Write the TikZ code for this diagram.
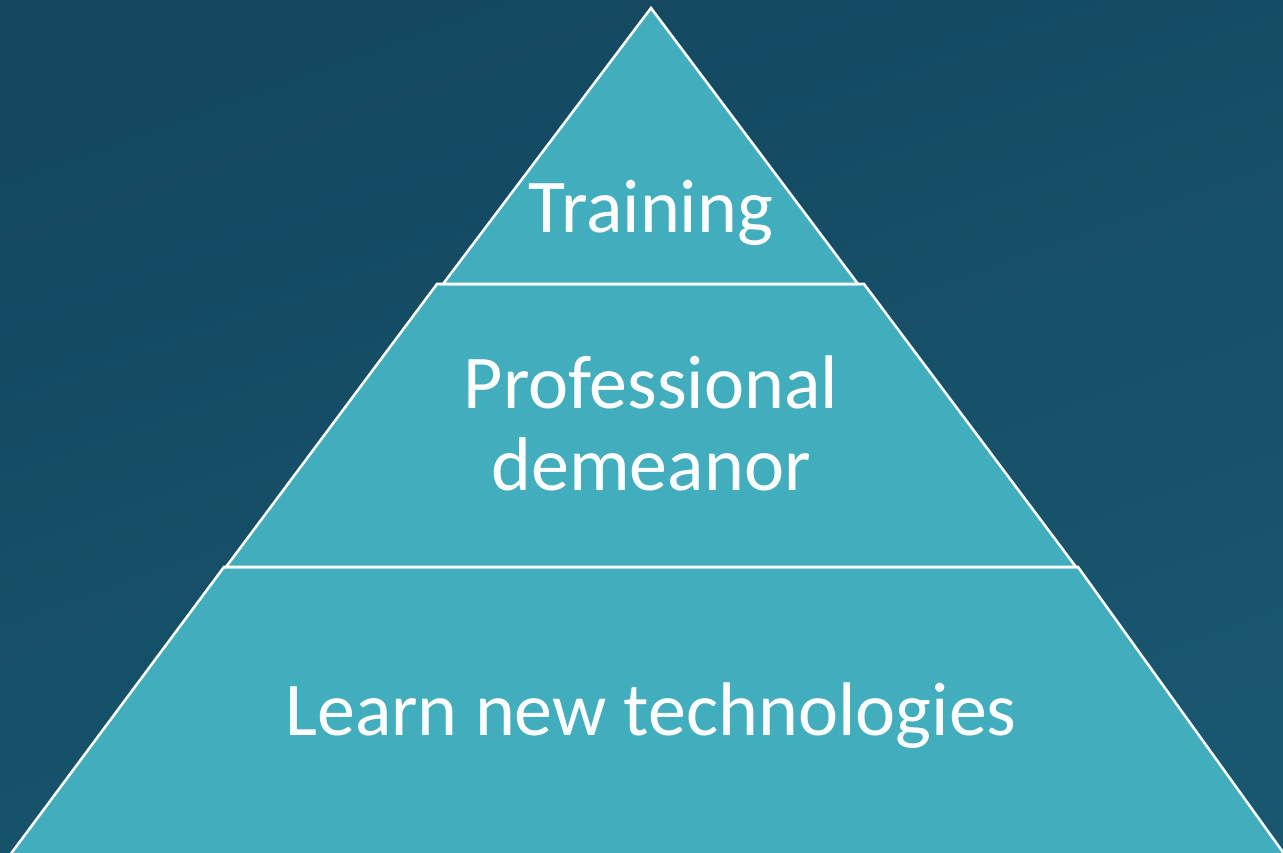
\documentclass[tikz,border=0pt]{standalone}
\usepackage{fontspec}
\setmainfont{Carlito}
\definecolor{bgtop}{HTML}{134860}
\definecolor{bgbot}{HTML}{19566F}
\definecolor{layer}{HTML}{42ADBD}
\tikzset{
  layerbox/.style={fill=layer, draw=white, line width=1.9pt, line join=miter},
  lbl/.style={text=white, font=\fontsize{57}{63}\selectfont, align=center, inner sep=0pt, anchor=base}
}
\begin{document}
\begin{tikzpicture}[x=0.75pt, y=-0.75pt]
\shade[top color=bgtop, bottom color=bgbot, shading angle=20] (0,0) rectangle (1283,853);
\useasboundingbox (0,0) rectangle (1283,853);
% bottom layer
\path[layerbox, draw=none] (10,855) -- (224,567) -- (1078,567) -- (1285,855) -- cycle;
\draw[white, line width=1.9pt] (10,855) -- (224,567) -- (1078,567) -- (1285,855);
% middle layer
\path[layerbox] (226,567) -- (437,284) -- (864,284) -- (1076,567) -- cycle;
% top layer
\path[layerbox] (443,284) -- (651,8) -- (858,284) -- cycle;
\node[lbl] (training) at (651,232) {Training};
\node[lbl] (prof) at (651,408) {Professional};
\node[lbl] (dem) at (651,490) {demeanor};
\node[lbl] (learn) at (651,735) {Learn new technologies};
\end{tikzpicture}
\end{document}
